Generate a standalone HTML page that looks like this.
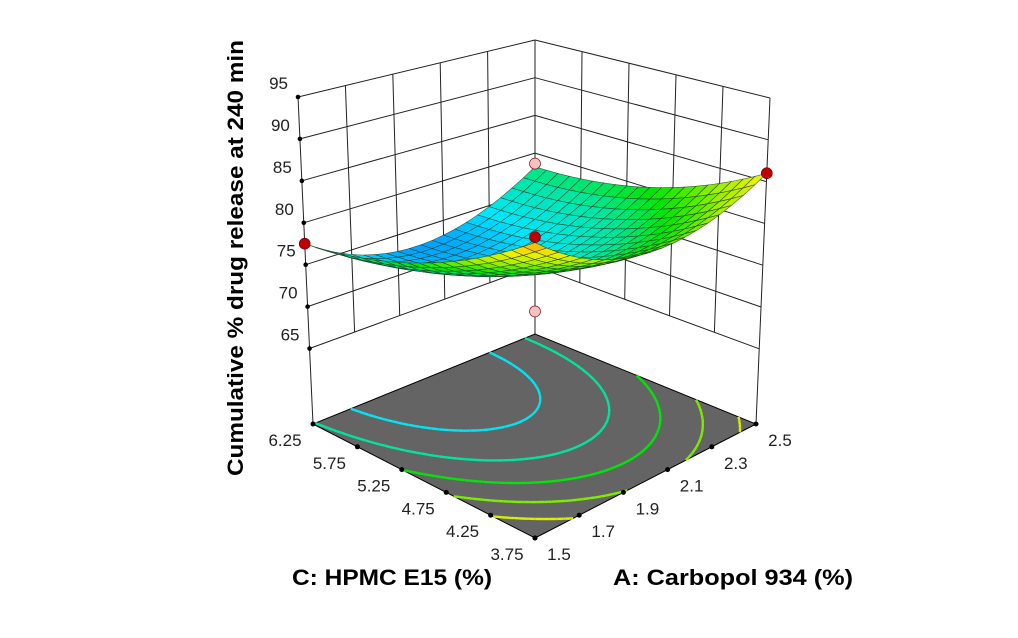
<!DOCTYPE html>
<html><head><meta charset="utf-8"><style>
html,body{margin:0;padding:0;background:#fff;}
svg{display:block;font-family:"Liberation Sans",sans-serif;}
</style></head><body>
<svg id="chart" width="1018" height="638" viewBox="0 0 1018 638">
<g id="walls"></g>
<g id="floor"></g>
<g id="surface"></g>
<g id="points"></g>
<g id="labels"></g>
<text x="243" y="258" transform="rotate(-90 243 258)" text-anchor="middle" font-size="22" font-weight="bold" textLength="436" lengthAdjust="spacingAndGlyphs">Cumulative % drug release at 240 min</text>
<text x="392" y="585" text-anchor="middle" font-size="22" font-weight="bold" textLength="200" lengthAdjust="spacingAndGlyphs">C: HPMC E15 (%)</text>
<text x="733" y="585" text-anchor="middle" font-size="22" font-weight="bold" textLength="240" lengthAdjust="spacingAndGlyphs">A: Carbopol 934 (%)</text>
</svg>
<script>
const zTicks=[65,70,75,80,85,90,95];
const aTicks=[1.5,1.7,1.9,2.1,2.3,2.5];
const cTicks=[3.75,4.25,4.75,5.25,5.75,6.25];
const coefB=[88,-22,-18.5,2.7,20,8]; // b0,bA,bC,bAC,bA2,bC2 (coded 0..1)
const contourLevels=[74.8,77.3,79.8,82.3,84.8];
const designA=[1.5,2.5,1.5,2.5,2.5];
const designC=[3.75,3.75,6.25,6.25,6.25];
const designZ=[88.6,86,77.5,78.6,59];
const designColor=['#c00000','#c00000','#c00000','#f4c0c0','#f4c0c0'];

const NS='http://www.w3.org/2000/svg';
const ZF=56,ZT=95;
const F={f:[535,538],r:[756,424],l:[313,424],b:[535,334]};
const T={f:[535,178],r:[770,98],l:[298,97],b:[535,40]};
function bil(C,u,v){return [
 C.f[0]*(1-u)*(1-v)+C.r[0]*u*(1-v)+C.l[0]*(1-u)*v+C.b[0]*u*v,
 C.f[1]*(1-u)*(1-v)+C.r[1]*u*(1-v)+C.l[1]*(1-u)*v+C.b[1]*u*v];}
function P(u,v,z){const w=(z-ZF)/(ZT-ZF);const a=bil(F,u,v),b=bil(T,u,v);return [a[0]+(b[0]-a[0])*w,a[1]+(b[1]-a[1])*w];}
const uOf=a=>(a-1.5)/1.0, vOf=c=>(c-3.75)/2.5;
function Z(u,v){const b=coefB;return b[0]+b[1]*u+b[2]*v+b[3]*u*v+b[4]*u*u+b[5]*v*v;}
function mk(tag,attrs,parent){const e=document.createElementNS(NS,tag);for(const k in attrs)e.setAttribute(k,attrs[k]);parent.appendChild(e);return e;}
function line(p,q,g,st,w){return mk('line',{x1:p[0].toFixed(1),y1:p[1].toFixed(1),x2:q[0].toFixed(1),y2:q[1].toFixed(1),stroke:st||'#000','stroke-width':w||1},g);}
function color(z){
 const t=Math.max(0,Math.min(1,(z-70)/(88-70)));
 const st=[[0,[0,60,255]],[0.12,[0,130,255]],[0.25,[0,230,255]],[0.42,[0,230,150]],[0.55,[0,230,0]],[0.72,[160,240,0]],[0.86,[240,240,0]],[1,[255,165,0]]];
 for(let i=1;i<st.length;i++){if(t<=st[i][0]){const a=st[i-1],b=st[i],f=(t-a[0])/(b[0]-a[0]);
  return 'rgb('+[0,1,2].map(k=>Math.round(a[1][k]+(b[1][k]-a[1][k])*f)).join(',')+')';}}
 return 'rgb(255,165,0)';}

const W=document.getElementById('walls');
zTicks.forEach(z=>{
 let e=line(P(0,1,z),P(1,1,z),W,'#222',1);
 e=line(P(1,1,z),P(1,0,z),W,'#222',1);
});
aTicks.forEach(a=>{const u=uOf(a);const lo=(u===0||u===1)?ZF:zTicks[0];
 const e=line(P(u,1,lo),P(u,1,ZT),W,'#222',1);});
cTicks.forEach(c=>{const v=vOf(c);const lo=(v===0||v===1)?ZF:zTicks[0];
 const e=line(P(1,v,lo),P(1,v,ZT),W,'#222',1);});

const FL=document.getElementById('floor');
const fl=mk('polygon',{points:[P(0,0,ZF),P(1,0,ZF),P(1,1,ZF),P(0,1,ZF)].map(p=>p.join(',')).join(' '),fill:'#646464',stroke:'#000','stroke-width':1},FL);


const N=60;
contourLevels.forEach(L=>{
 const g=mk('g',{},FL);
 
 
 const col=color(L);
 for(let i=0;i<N;i++)for(let j=0;j<N;j++){
  const u0=i/N,u1=(i+1)/N,v0=j/N,v1=(j+1)/N;
  const c=[[u0,v0],[u1,v0],[u1,v1],[u0,v1]];const zz=c.map(p=>Z(p[0],p[1]));
  const pts=[];
  for(let k=0;k<4;k++){const a=zz[k],b=zz[(k+1)%4];if((a-L)*(b-L)<0){const f=(L-a)/(b-a);const p=c[k],q=c[(k+1)%4];pts.push([p[0]+(q[0]-p[0])*f,p[1]+(q[1]-p[1])*f]);}}
  for(let k=0;k+1<pts.length;k+=2){line(P(pts[k][0],pts[k][1],ZF),P(pts[k+1][0],pts[k+1][1],ZF),g,col,2.4);}
 }
});
aTicks.forEach(a=>{const p=P(uOf(a),0,ZF);const d=mk('circle',{cx:p[0],cy:p[1],r:2.5,fill:'#000'},FL);});
cTicks.forEach(c=>{const p=P(0,vOf(c),ZF);const d=mk('circle',{cx:p[0],cy:p[1],r:2.5,fill:'#000'},FL);});
zTicks.forEach(z=>{const p=P(0,1,z);const d=mk('circle',{cx:p[0],cy:p[1],r:2.3,fill:'#000'},W);});

const PT=document.getElementById('points');
function dot(i,parent){const p=P(uOf(designA[i]),vOf(designC[i]),designZ[i]);
 const d=mk('circle',{cx:p[0].toFixed(1),cy:p[1].toFixed(1),r:5.5,fill:designColor[i],stroke:'#600','stroke-width':0.6},parent);
 }
designZ.forEach((z,i)=>{ if(z<Z(uOf(designA[i]),vOf(designC[i]))-1) dot(i,W); });

const S=document.getElementById('surface');
const M=20,quads=[];
for(let i=0;i<M;i++)for(let j=0;j<M;j++)quads.push([i,j]);
quads.sort((a,b)=>(b[0]+b[1])-(a[0]+a[1]));
quads.forEach(([i,j])=>{
 const c=[[i/M,j/M],[(i+1)/M,j/M],[(i+1)/M,(j+1)/M],[i/M,(j+1)/M]];
 const zz=c.map(p=>Z(p[0],p[1]));const zm=(zz[0]+zz[1]+zz[2]+zz[3])/4;
 const q=mk('polygon',{points:c.map((p,k)=>P(p[0],p[1],zz[k]).map(x=>x.toFixed(1)).join(',')).join(' '),fill:color(zm),stroke:'#1a3a1a','stroke-width':0.6,'stroke-opacity':0.8},S);
 
 
});
designZ.forEach((z,i)=>{ if(z>=Z(uOf(designA[i]),vOf(designC[i]))-1) dot(i,PT); });

const LB=document.getElementById('labels');
function txt(s,x,y,anchor,name){const t=mk('text',{x:x.toFixed(1),y:y.toFixed(1),'text-anchor':anchor,'font-size':17,fill:'#222'},LB);t.textContent=s;}
zTicks.forEach(z=>{const p=P(0,1,z);txt(String(z),p[0]-10,p[1]-8,'end','z-tick-label');});
aTicks.forEach(a=>{const p=P(uOf(a),0,ZF);txt(String(a),p[0]+24,p[1]+22,'middle','a-tick-label');});
cTicks.forEach(c=>{const p=P(0,vOf(c),ZF);txt(c.toFixed(2),p[0]-28,p[1]+22,'middle','c-tick-label');});
</script>
</body></html>
